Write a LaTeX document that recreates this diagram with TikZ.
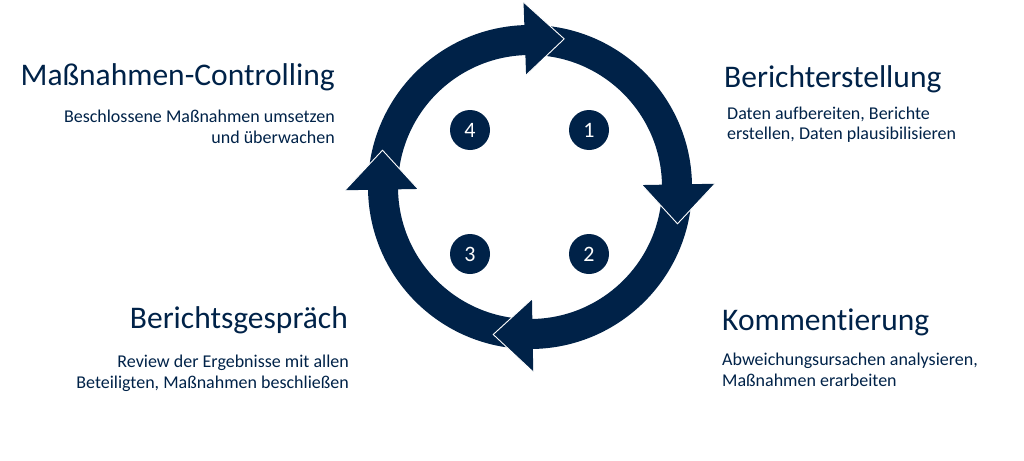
\documentclass[tikz,border=0pt]{standalone}
\usepackage{fontspec}
\setmainfont{Carlito}[Ligatures=NoCommon]
\usetikzlibrary{calc}
\definecolor{navy}{RGB}{0,34,72}
\begin{document}
\begin{tikzpicture}[x=1pt,y=1pt,
  title/.style={text=navy,inner sep=0pt,font=\fontsize{31.5}{36}\selectfont},
  sub/.style={text=navy,inner sep=0pt,font=\fontsize{18}{20.5}\selectfont},
  num/.style={circle,fill=navy,text=white,minimum size=40pt,inner sep=0pt,font=\fontsize{22}{24}\selectfont},
  headfill/.style={fill=navy},
  headedge/.style={draw=white,line width=0.9pt,line join=miter}]
\useasboundingbox (0,-460) rectangle (1024,0);
\coordinate (C) at (530,-187);
% ring
\fill[navy,even odd rule] (C) circle (162) (C) circle (132);
% arrow heads (back angle, tip 15 deg further clockwise)
\foreach \b in {92,1,271,181}{
  \pgfmathsetmacro{\t}{\b-15}
  \fill[headfill] ($(C)+(\b:112)$) -- ($(C)+(\b:185)$) -- ($(C)+(\t:152)$) -- cycle;
  \draw[headedge] ($(C)+(\b:185)$) -- ($(C)+(\t:152)$) -- ($(C)+(\b:112)$);
}
% numbered circles
\node[num] (n1) at (589,-130) {1};
\node[num] (n2) at (589,-254) {2};
\node[num] (n3) at (470,-254) {3};
\node[num] (n4) at (470,-130) {4};
% texts (base anchor = baseline of the last line)
\node[title,anchor=base west] (t1) at (724,-87) {Berichterstellung};
\node[sub,anchor=base west,align=left] (s1) at (727,-139.5) {Daten aufbereiten, Berichte\\erstellen, Daten plausibilisieren};
\node[title,anchor=base west] (t2) at (722,-330) {Kommentierung};
\node[sub,anchor=base west,align=left] (s2) at (722,-386) {Abweichungsursachen analysieren,\\Maßnahmen erarbeiten};
\node[title,anchor=base east] (t3) at (348,-328) {Berichtsgespräch};
\node[sub,anchor=base east,align=right] (s3) at (349,-388) {Review der Ergebnisse mit allen\\Beteiligten, Maßnahmen beschließen};
\node[title,anchor=base east] (t4) at (335,-85) {Maßnahmen-Controlling};
\node[sub,anchor=base east,align=right] (s4) at (335,-143) {Beschlossene Maßnahmen umsetzen\\und überwachen};
\end{tikzpicture}
\end{document}
